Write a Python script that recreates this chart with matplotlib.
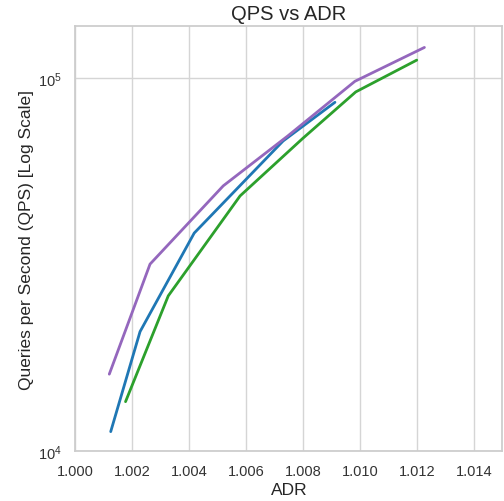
import numpy as np
import matplotlib.pyplot as plt
import seaborn as sns

sns.set_theme(style="whitegrid")
plt.rcParams['font.family'] = ['Liberation Sans', 'DejaVu Sans']

# ADR / QPS pairs for three index configurations
adr_purple = [1.0012, 1.00263, 1.0052, 1.00747, 1.00982, 1.01226]
qps_purple = [16070, 31700, 51400, 70000, 98000, 120800]

adr_blue = [1.00125, 1.00228, 1.00418, 1.0073, 1.00912]
qps_blue = [11270, 20900, 38400, 67800, 86100]

adr_green = [1.00177, 1.00327, 1.00579, 1.0080, 1.00985, 1.01199]
qps_green = [13560, 26060, 48300, 69000, 91800, 111700]

xticks = np.arange(1.000, 1.0141, 0.002)

fig = plt.figure(figsize=(5.04, 5.02), dpi=100)
ax = fig.add_axes([0.149, 0.0996, 0.848, 0.8464])

ax.plot(adr_blue, qps_blue, color='#1f77b4', lw=2)
ax.plot(adr_green, qps_green, color='#2ca02c', lw=2)
ax.plot(adr_purple, qps_purple, color='#9467bd', lw=2)

ax.set_yscale('log')
ax.set_xlim(1.000, 1.015)
ax.set_ylim(1e4, 1.378e5)
ax.set_xticks(xticks)
ax.set_xticklabels([f"{t:.3f}" for t in xticks])
ax.grid(True, which='major', color='#d5d5d5')
ax.grid(False, which='minor')

ax.tick_params(labelsize=10.5, colors='#333333')
ax.set_title('QPS vs ADR', fontsize=14.5, color='#262626', pad=5)
ax.set_xlabel('ADR', fontsize=12.5, color='#262626', labelpad=3)
ax.set_ylabel('Queries per Second (QPS) [Log Scale]', fontsize=12.5, color='#262626', labelpad=3)

for s in ax.spines.values():
    s.set_color('#cccccc')

plt.savefig('out.png', dpi=100)
